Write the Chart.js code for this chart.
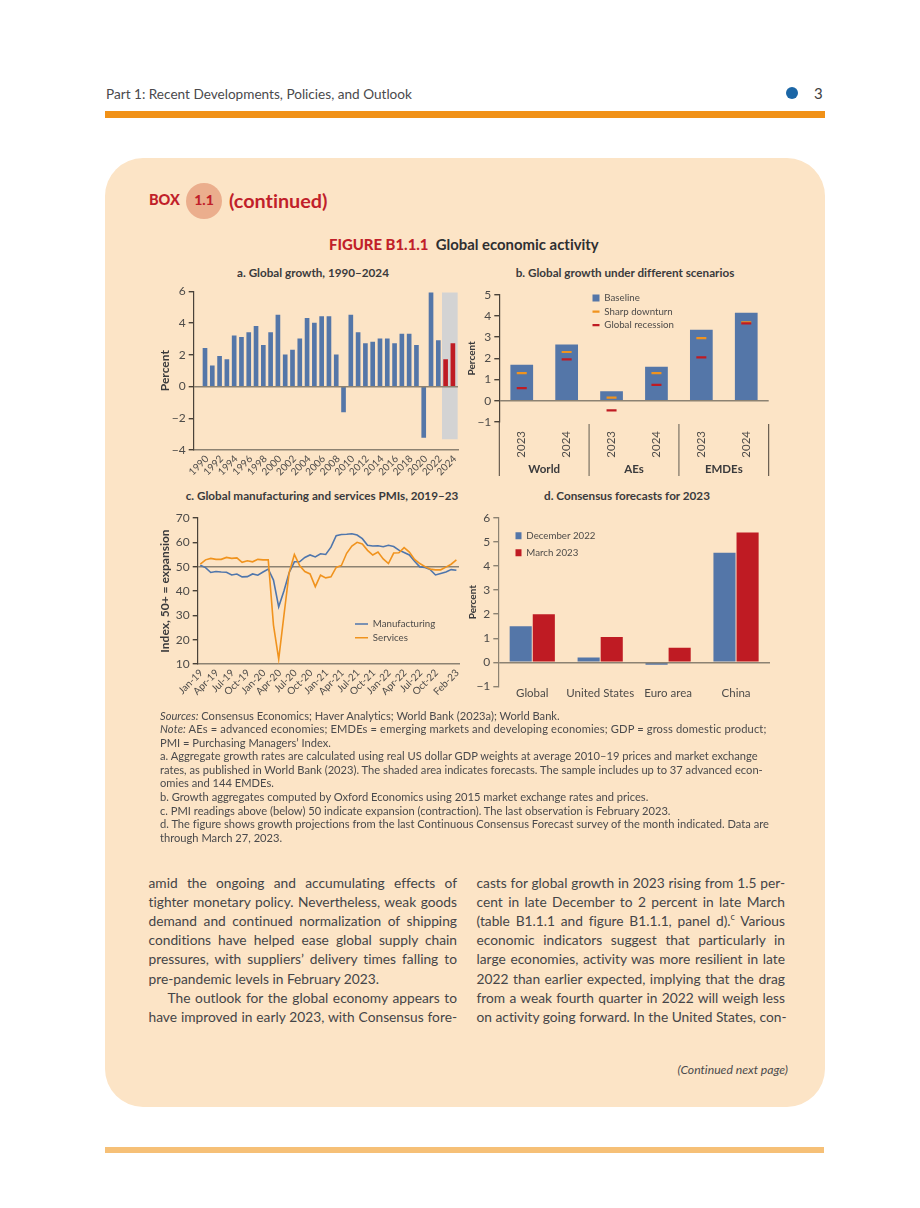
<!DOCTYPE html>
<html>
<head>
<meta charset="utf-8">
<script src="https://cdn.jsdelivr.net/npm/chart.js@4"></script>
<style>
html, body { margin: 0; background: #fff; }
#page { position: relative; width: 920px; height: 1208px; overflow: hidden; font-family: Lato, sans-serif; color: #414042; font-variant-ligatures: none; }
#page > * { position: absolute; }
canvas { display: block; }
.t { white-space: nowrap; }
.panel { font-weight: 700; font-size: 11.7px; line-height: 14px; text-align: center; white-space: nowrap; color: #3a3a3c; }
.note { left: 160px; font-size: 11.15px; line-height: 14px; white-space: nowrap; color: #4a4a4c; }
.body { font-size: 13.75px; line-height: 18px; white-space: nowrap; text-align: justify; text-align-last: justify; color: #454547; }
.body.end { text-align-last: left; }
</style>
</head>
<body>
<div id="page">
  <div class="t" style="left:106px;top:85px;font-size:13.6px;line-height:18px;color:#4a4a4c">Part 1: Recent Developments, Policies, and Outlook</div>
  <div style="left:786px;top:87px;width:12px;height:12px;border-radius:50%;background:#1b66a6"></div>
  <div class="t" style="left:814px;top:84px;font-size:15px;line-height:18px;color:#414042">3</div>
  <div style="left:105px;top:111px;width:720px;height:7px;background:#f19117"></div>

  <div style="left:105px;top:158px;width:720px;height:949px;border-radius:38px;background:#fce4c6"></div>
  <div class="t" style="left:149px;top:191px;font-size:14.5px;line-height:18px;font-weight:900;color:#c11f2a">BOX</div>
  <div style="left:186px;top:183px;width:36px;height:36px;border-radius:50%;background:#ebae8d"></div>
  <div class="t" style="left:186px;top:191px;width:36px;text-align:center;font-size:14px;line-height:18px;font-weight:900;color:#c11f2a">1.1</div>
  <div class="t" style="left:229px;top:187px;font-size:19.8px;line-height:26px;font-weight:700;color:#c11f2a">(continued)</div>
  <div class="t" style="left:329px;top:235px;font-size:14.9px;line-height:18px;font-weight:700;color:#2f2f31"><span style="color:#c11f2a;font-weight:900">FIGURE B1.1.1</span>&nbsp; Global economic activity</div>

  <div class="panel" style="left:150px;top:265.3px;width:326px">a. Global growth, 1990–2024</div>
  <div class="panel" style="left:465px;top:265.3px;width:320px">b. Global growth under different scenarios</div>
  <div class="panel" style="left:160px;top:488.3px;width:324px">c. Global manufacturing and services PMIs, 2019–23</div>
  <div class="panel" style="left:467px;top:488.3px;width:320px">d. Consensus forecasts for 2023</div>

  <canvas id="chartA" width="320" height="205" style="left:150px;top:280px"></canvas>
  <canvas id="chartB" width="320" height="205" style="left:460px;top:280px"></canvas>
  <canvas id="chartC" width="320" height="205" style="left:150px;top:505px"></canvas>
  <canvas id="chartD" width="320" height="205" style="left:460px;top:505px"></canvas>

  <div class="t" style="left:677.5px;top:1062px;font-size:12.2px;line-height:16px;font-style:italic;color:#4a4a4c">(Continued next page)</div>
  <div style="left:105px;top:1147px;width:719px;height:6px;background:#f6c077"></div>
</div>

<script>
// panel a
const years = [1990, 1991, 1992, 1993, 1994, 1995, 1996, 1997, 1998, 1999, 2000, 2001, 2002, 2003, 2004, 2005, 2006, 2007,
    2008, 2009, 2010, 2011, 2012, 2013, 2014, 2015, 2016, 2017, 2018, 2019, 2020, 2021, 2022, 2023, 2024];
const growth = [2.4, 1.3, 1.9, 1.7, 3.2, 3.1, 3.4, 3.8, 2.6, 3.4, 4.5, 2.0, 2.3, 3.0, 4.3, 4.0, 4.4, 4.4,
    2.0, -1.6, 4.5, 3.4, 2.7, 2.8, 3.0, 3.0, 2.7, 3.3, 3.3, 2.6, -3.2, 5.9, 2.9, 1.7, 2.7];
const firstForecastYear = 2023;
const yearTicks = [1990, 1992, 1994, 1996, 1998, 2000, 2002, 2004, 2006, 2008, 2010, 2012, 2014, 2016, 2018, 2020, 2022, 2024];
const bandCentre = [2023.58];
const bandRange = [-3.3, 5.9];

// panel b
const scenarioYears = ["2023", "2024", "2023", "2024", "2023", "2024"];
const scenarioGroups = ["World", "AEs", "EMDEs"];
const baseline = [1.7, 2.65, 0.45, 1.6, 3.35, 4.15];
const sharpDownturn = [1.3, 2.3, 0.15, 1.3, 2.95, 3.7];
const globalRecession = [0.6, 1.95, -0.45, 0.75, 2.05, 3.65];

// panel c
const months = ["Jan-19", "Feb-19", "Mar-19", "Apr-19", "May-19", "Jun-19", "Jul-19", "Aug-19", "Sep-19", "Oct-19", "Nov-19", "Dec-19",
    "Jan-20", "Feb-20", "Mar-20", "Apr-20", "May-20", "Jun-20", "Jul-20", "Aug-20", "Sep-20", "Oct-20", "Nov-20", "Dec-20",
    "Jan-21", "Feb-21", "Mar-21", "Apr-21", "May-21", "Jun-21", "Jul-21", "Aug-21", "Sep-21", "Oct-21", "Nov-21", "Dec-21",
    "Jan-22", "Feb-22", "Mar-22", "Apr-22", "May-22", "Jun-22", "Jul-22", "Aug-22", "Sep-22", "Oct-22", "Nov-22", "Dec-22",
    "Jan-23", "Feb-23"];
const monthTicks = ["Jan-19", "Apr-19", "Jul-19", "Oct-19", "Jan-20", "Apr-20", "Jul-20", "Oct-20", "Jan-21", "Apr-21", "Jul-21", "Oct-21",
    "Jan-22", "Apr-22", "Jul-22", "Oct-22", "Feb-23"];
const manufacturing = [50.6, 49.6, 47.6, 48, 47.8, 47.7, 46.6, 47, 45.8, 45.9, 47, 46.5,
    47.8, 49, 44.5, 33.5, 40, 47.5, 52, 52, 53.8, 54.8, 54, 55.3,
    55, 58, 62.7, 63.2, 63.3, 63.5, 63, 61.5, 58.8, 58.5, 58.6, 58.2,
    58.8, 58.3, 56.8, 55.8, 54.8, 52.2, 49.9, 49.7, 48.8, 46.6, 47.2, 47.8,
    48.8, 48.5];
const services = [51, 52.8, 53.4, 53, 53, 53.8, 53.4, 53.6, 51.8, 52.4, 52, 53,
    52.8, 52.8, 26, 12, 30, 47.5, 55, 50.5, 48, 47, 41.8, 46.5,
    45.4, 45.8, 49.7, 50.5, 55.5, 58.5, 60, 59.3, 56.7, 54.8, 56, 53.2,
    51.3, 55.6, 55.7, 57.8, 56, 53, 51.3, 50, 49, 48.7, 48.7, 49.8,
    51, 52.8];

// panel d
const economies = ["Global", "United States", "Euro area", "China"];
const december2022 = [1.5, 0.2, -0.1, 4.55];
const march2023 = [2.0, 1.05, 0.6, 5.4];

// text under the charts
const noteLines = [
    "<i>Sources:</i> Consensus Economics; Haver Analytics; World Bank (2023a); World Bank.",
    "<span style=\"letter-spacing:.13px\"><i>Note:</i> AEs = advanced economies; EMDEs = emerging markets and developing economies; GDP = gross domestic product;</span>",
    "PMI = Purchasing Managers’ Index.",
    "a. Aggregate growth rates are calculated using real US dollar GDP weights at average 2010–19 prices and market exchange",
    "rates, as published in World Bank (2023). The shaded area indicates forecasts. The sample includes up to 37 advanced econ-",
    "omies and 144 EMDEs.",
    "b. Growth aggregates computed by Oxford Economics using 2015 market exchange rates and prices.",
    "c. PMI readings above (below) 50 indicate expansion (contraction). The last observation is February 2023.",
    "d. The figure shows growth projections from the last Continuous Consensus Forecast survey of the month indicated. Data are",
    "through March 27, 2023.",
];
const leftColumn = [
    "amid the ongoing and accumulating effects of",
    "tighter monetary policy. Nevertheless, weak goods",
    "demand and continued normalization of shipping",
    "conditions have helped ease global supply chain",
    "pressures, with suppliers’ delivery times falling to",
    "pre-pandemic levels in February 2023.",
    "The outlook for the global economy appears to",
    "have improved in early 2023, with Consensus fore-",
];
const rightColumn = [
    "casts for global growth in 2023 rising from 1.5 per-",
    "cent in late December to 2 percent in late March",
    "(table B1.1.1 and figure B1.1.1, panel d).<sup style=\"font-size:9px;line-height:0\">c</sup> Various",
    "economic indicators suggest that particularly in",
    "large economies, activity was more resilient in late",
    "2022 than earlier expected, implying that the drag",
    "from a weak fourth quarter in 2022 will weigh less",
    "on activity going forward. In the United States, con-",
];

const page = document.getElementById("page");
noteLines.forEach((html, i) => {
    const el = document.createElement("div");
    el.className = "note";
    el.style.top = (708.7 + i * 13.55) + "px";
    el.innerHTML = html;
    page.appendChild(el);
});
function addColumn(lines, left, width) {
    lines.forEach((html, i) => {
        const el = document.createElement("div");
        el.className = "body";
        const indent = html.startsWith("The outlook") ? 19 : 0;
        el.style.left = (left + indent) + "px";
        el.style.width = (width - indent) + "px";
        el.style.top = (873.8 + i * 19.15) + "px";
        if (html.endsWith("February 2023.")) el.classList.add("end");
        el.innerHTML = html;
        page.appendChild(el);
    });
}
addColumn(leftColumn, 148.5, 308.5);
addColumn(rightColumn, 476.5, 308.5);

const BLUE = "#5476a8";
const RED = "#bf1b23";
const ORANGE = "#f0931e";
const LINE_BLUE = "#4f76ac";
const INK = "#4d4b49";
const AXIS_DARK = "#4a4239";
const AXIS_SOFT = "#8c8272";
const FONT = "Lato, sans-serif";

Chart.defaults.animation = false;
Chart.defaults.font.family = FONT;
Chart.defaults.color = INK;

const minus = (v) => String(v).replace("-", "\u2212");

// legend is pinned at a spot inside the panel instead of taking layout room
const legendAt = {
    id: "legendAt",
    afterLayout(chart, args, opts) {
        const legend = chart.legend;
        if (!legend || opts.x === undefined) return;
        const labels = legend.options.labels;
        legend.left = opts.x - labels.padding;
        legend.top = opts.y - labels.font.size / 2 - labels.padding;
        legend.right = chart.width;
        legend.bottom = chart.height;
    },
};
Chart.register(legendAt);

function legendOptions(x, y, swatch, rowGap) {
    return {
        legendAt: { x, y },
        legend: {
            position: "chartArea",
            align: "start",
            labels: {
                usePointStyle: true,
                pointStyleWidth: swatch,
                boxHeight: 7,
                padding: rowGap,
                color: INK,
                font: { size: 9.7 },
                sort: (a, b) => a.datasetIndex - b.datasetIndex,
            },
        },
    };
}

function valueAxis(min, max, step, width, zeroAt, title, titleSize, titleGap, borderColor) {
    const layer = zeroAt === 50 ? 0 : 1;
    return {
        min, max,
        afterFit: (s) => { s.width = width; },
        title: {
            display: true, text: title, color: "#3a3a3c",
            font: { size: titleSize, weight: "bold" },
            padding: { top: titleGap, bottom: 0 },
        },
        border: { color: borderColor, width: 1.2, z: layer },
        grid: {
            z: layer,
            tickLength: 5,
            tickColor: borderColor,
            lineWidth: 1.4,
            color: (ctx) => (ctx.tick.value === zeroAt ? AXIS_SOFT : "transparent"),
        },
        ticks: { stepSize: step, padding: 3, font: { size: 12 }, callback: minus },
    };
}

new Chart(document.getElementById("chartA"), {
    type: "bar",
    data: {
        datasets: [
            {
                data: years.map((y, i) => ({ x: y, y: growth[i] })),
                barThickness: 4,
                order: 1,
                backgroundColor: (ctx) => (ctx.raw && ctx.raw.x >= firstForecastYear ? RED : BLUE),
            },
            {
                data: bandCentre.map((x) => ({ x, y: bandRange })),
                barThickness: 15,
                order: 2,
                backgroundColor: "#d3d3d3",
            },
        ],
    },
    options: {
        responsive: false,
        layout: { padding: { top: 11.3, right: 12 } },
        datasets: { bar: { grouped: false } },
        plugins: { legend: { display: false }, tooltip: { enabled: false } },
        scales: {
            x: {
                type: "linear",
                min: 1988.45,
                max: 2024.7,
                offset: false,
                afterFit: (s) => { s.height = 35; },
                afterBuildTicks: (s) => { s.ticks = yearTicks.map((value) => ({ value })); },
                border: { color: AXIS_SOFT, width: 1.4 },
                grid: { display: false, offset: false, drawTicks: false },
                ticks: { autoSkip: false, minRotation: 45, maxRotation: 45, padding: 3, labelOffset: 2, font: { size: 10 }, callback: (v) => String(v) },
            },
            y: valueAxis(-4, 6, 2, 43.7, 0, "Percent", 12, 7.5, AXIS_DARK),
        },
    },
});

// separators and group names below the rotated years of panel b
const scenarioGroupsPlugin = {
    id: "scenarioGroups",
    afterDraw(chart) {
        const { ctx, chartArea, scales } = chart;
        const x = scales.x;
        const bottom = chartArea.bottom + 54;
        ctx.save();
        for (let g = 0; g <= scenarioGroups.length; g++) {
            const px = x.getPixelForValue(g * 2 - 0.5);
            const outer = g === 0 || g === scenarioGroups.length;
            ctx.strokeStyle = outer ? AXIS_DARK : AXIS_SOFT;
            ctx.lineWidth = outer ? 1 : 1.4;
            ctx.beginPath();
            ctx.moveTo(px, g === 0 ? chartArea.bottom : chartArea.bottom + 2);
            ctx.lineTo(px, bottom);
            ctx.stroke();
        }
        ctx.fillStyle = "#3a3a3c";
        ctx.font = "bold 11.5px " + FONT;
        ctx.textAlign = "center";
        ctx.textBaseline = "middle";
        scenarioGroups.forEach((name, g) => {
            ctx.fillText(name, x.getPixelForValue(g * 2 + 0.5), chartArea.bottom + 47);
        });
        ctx.restore();
    },
};

const scenarioMark = (label, data, color, order) => ({
    type: "line", label, data, order,
    showLine: false,
    borderColor: color,
    backgroundColor: color,
    pointStyle: "line",
    pointRadius: 5,
    pointBorderWidth: 2.2,
});

new Chart(document.getElementById("chartB"), {
    data: {
        labels: scenarioYears,
        datasets: [
            { type: "bar", label: "Baseline", data: baseline, order: 3, backgroundColor: BLUE, pointStyle: "rect", barPercentage: 0.506, categoryPercentage: 1 },
            scenarioMark("Sharp downturn", sharpDownturn, ORANGE, 2),
            scenarioMark("Global recession", globalRecession, RED, 1),
        ],
    },
    plugins: [scenarioGroupsPlugin],
    options: {
        responsive: false,
        layout: { padding: { top: 14.7, right: 11.3 } },
        plugins: Object.assign(legendOptions(132.5, 18, 7, 3.9), { tooltip: { enabled: false } }),
        scales: {
            x: {
                afterFit: (s) => { s.height = 63; },
                border: { display: false },
                grid: { display: false, drawTicks: false },
                ticks: { autoSkip: false, minRotation: 90, maxRotation: 90, padding: 9, font: { size: 11.5 } },
            },
            y: valueAxis(-1, 5, 1, 39.3, 0, "Percent", 10, 5.5, AXIS_DARK),
        },
    },
});

new Chart(document.getElementById("chartC"), {
    type: "line",
    data: {
        labels: months,
        datasets: [
            { label: "Manufacturing", data: manufacturing, borderColor: LINE_BLUE, backgroundColor: LINE_BLUE, borderWidth: 1.6, pointRadius: 0, pointBorderWidth: 1.6, pointStyle: "line", tension: 0, order: 2 },
            { label: "Services", data: services, borderColor: ORANGE, backgroundColor: ORANGE, borderWidth: 1.6, pointRadius: 0, pointBorderWidth: 1.6, pointStyle: "line", tension: 0, order: 1 },
        ],
    },
    options: {
        responsive: false,
        layout: { padding: { top: 13, right: 11 } },
        plugins: Object.assign(legendOptions(205, 119, 13, 4), { tooltip: { enabled: false } }),
        scales: {
            x: {
                offset: true,
                afterFit: (s) => { s.height = 46; },
                border: { color: AXIS_SOFT, width: 1.4 },
                grid: { display: false, drawTicks: false },
                ticks: {
                    autoSkip: false, minRotation: 45, maxRotation: 45, padding: 3, labelOffset: 1, font: { size: 10 },
                    callback(v) {
                        const label = this.getLabelForValue(v);
                        return monthTicks.includes(label) ? label : null;
                    },
                },
            },
            y: valueAxis(10, 70, 10, 47.7, 50, "Index, 50+ = expansion", 12, 7.5, AXIS_DARK),
        },
    },
});

new Chart(document.getElementById("chartD"), {
    type: "bar",
    data: {
        labels: economies,
        datasets: [
            { label: "December 2022", data: december2022, backgroundColor: BLUE, pointStyle: "rect" },
            { label: "March 2023", data: march2023, backgroundColor: RED, pointStyle: "rect" },
        ],
    },
    options: {
        responsive: false,
        layout: { padding: { top: 13, right: 10 } },
        datasets: { bar: { categoryPercentage: 0.68, barPercentage: 0.957 } },
        plugins: Object.assign(legendOptions(55.5, 30.7, 6, 7.3), { tooltip: { enabled: false } }),
        scales: {
            x: {
                afterFit: (s) => { s.height = 23.7; },
                border: { display: false },
                grid: { display: false, drawTicks: false },
                ticks: { autoSkip: false, padding: 0, maxRotation: 0, font: { size: 11.5 } },
            },
            y: valueAxis(-1, 6, 1, 38.3, 0, "Percent", 10, 7, AXIS_SOFT),
        },
    },
});
</script>
</body>
</html>
